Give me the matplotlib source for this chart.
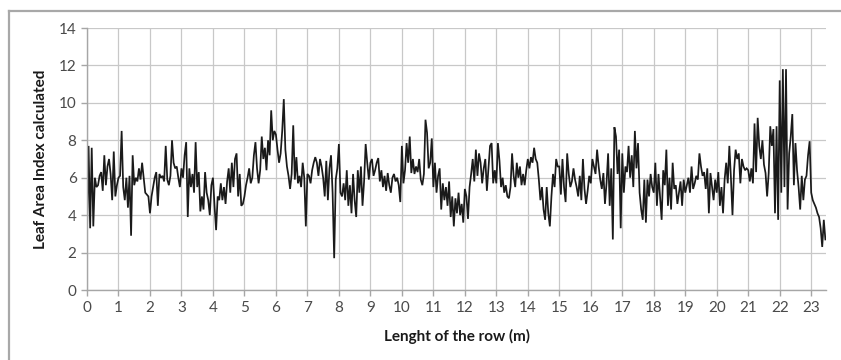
import numpy as np
import matplotlib
matplotlib.use("Agg")
import matplotlib.pyplot as plt
from matplotlib.lines import Line2D

# Leaf Area Index readings, 20 per metre (0.05 m spacing)
lai = [
    # 0 m
    3.1, 7.7, 3.3, 7.6, 3.4, 6.0, 5.5, 5.6, 6.1, 6.3, 5.3, 7.2, 5.6, 6.6, 7.0, 6.2, 4.8, 7.4, 5.0, 5.6,
    # 1 m
    6.0, 6.1, 8.5, 5.5, 4.8, 6.0, 4.4, 6.1, 2.9, 7.2, 5.6, 6.0, 5.8, 6.5, 5.9, 6.8, 6.0, 5.2, 5.1, 5.0,
    # 2 m
    4.1, 5.0, 5.5, 6.0, 6.3, 4.5, 6.2, 6.0, 6.1, 5.8, 7.7, 5.9, 5.6, 6.1, 8.0, 6.8, 6.5, 6.6, 6.0, 5.5,
    # 3 m
    6.5, 6.0, 7.2, 7.9, 3.9, 6.5, 5.5, 6.2, 5.2, 7.9, 5.5, 6.3, 4.2, 5.0, 4.3, 6.3, 5.2, 4.8, 4.0, 5.6,
    # 4 m
    6.0, 4.5, 3.2, 5.0, 4.8, 5.7, 4.8, 5.5, 4.6, 5.8, 6.5, 5.2, 6.8, 5.5, 7.0, 7.3, 5.0, 6.2, 4.5, 4.6,
    # 5 m
    5.0, 5.6, 6.0, 6.5, 5.7, 6.0, 7.2, 7.9, 6.5, 5.7, 6.4, 8.2, 7.0, 7.6, 6.4, 8.0, 7.2, 9.6, 8.0, 8.5,
    # 6 m
    8.3, 7.5, 6.8, 7.3, 8.5, 10.2, 7.5, 6.6, 6.1, 5.4, 6.2, 8.8, 5.9, 7.1, 5.7, 6.1, 5.5, 6.8, 6.0, 3.4,
    # 7 m
    6.2, 6.1, 5.7, 6.4, 6.8, 7.1, 6.8, 6.1, 7.0, 6.6, 6.0, 5.0, 6.9, 4.8, 6.5, 7.2, 5.2, 1.7, 5.9, 6.5,
    # 8 m
    7.8, 5.2, 5.0, 5.7, 4.8, 6.4, 4.5, 5.6, 4.1, 6.2, 4.8, 3.9, 6.4, 5.2, 6.6, 4.5, 5.8, 7.8, 6.8, 5.9,
    # 9 m
    6.8, 7.0, 6.1, 6.4, 6.8, 7.05, 5.8, 6.4, 5.5, 6.1, 5.3, 6.25, 5.6, 5.2, 6.0, 6.2, 5.8, 6.0, 5.6, 4.7,
    # 10 m
    7.7, 5.7, 6.4, 7.85, 6.8, 8.2, 6.25, 7.0, 6.2, 6.6, 6.3, 7.0, 5.9, 5.6, 6.2, 9.1, 8.4, 6.5, 6.8, 8.1,
    # 11 m
    5.5, 6.8, 5.2, 6.1, 6.5, 4.3, 5.7, 4.8, 5.5, 4.5, 5.8, 3.9, 5.0, 3.4, 4.9, 4.1, 5.2, 4.0, 4.6, 3.6,
    # 12 m
    5.4, 5.0, 3.8, 5.5, 6.2, 7.0, 5.8, 7.5, 6.1, 7.3, 6.8, 5.7, 6.5, 7.0, 5.3, 6.5, 7.7, 7.85, 5.7, 6.4,
    # 13 m
    5.7, 7.85, 6.9, 5.5, 6.0, 5.2, 5.6, 5.0, 4.9, 5.5, 7.3, 6.1, 5.5, 6.8, 6.0, 6.6, 5.6, 6.2, 5.6, 6.4,
    # 14 m
    7.0, 6.5, 7.1, 6.8, 7.6, 7.0, 6.8, 5.9, 4.8, 5.5, 4.3, 3.75, 5.5, 4.1, 3.4, 5.0, 6.2, 5.5, 7.0, 6.6,
    # 15 m
    6.6, 5.1, 7.0, 5.5, 4.7, 7.3, 6.2, 5.5, 5.8, 6.5, 5.9, 5.5, 5.0, 6.1, 4.8, 7.0, 5.4, 4.6, 5.3, 6.1,
    # 16 m
    5.7, 7.0, 6.6, 6.2, 7.5, 6.6, 5.9, 5.4, 6.25, 4.6, 5.7, 7.3, 4.5, 6.5, 2.7, 8.7, 8.2, 6.2, 7.5, 3.3,
    # 17 m
    7.3, 5.2, 6.6, 6.3, 7.7, 6.0, 7.2, 5.5, 8.5, 6.5, 7.85, 5.2, 4.3, 3.75, 5.9, 3.6, 5.9, 5.0, 6.2, 5.5,
    # 18 m
    5.2, 6.8, 4.5, 6.2, 5.0, 3.75, 6.4, 5.6, 7.5, 4.5, 6.0, 4.3, 6.8, 5.4, 5.6, 4.6, 5.2, 5.8, 4.5, 5.9,
    # 19 m
    5.2, 5.6, 6.0, 5.2, 6.6, 5.4, 5.7, 6.1, 5.9, 7.3, 6.6, 6.1, 6.3, 5.4, 6.5, 4.1, 6.25, 5.5, 4.8, 5.9,
    # 20 m
    5.2, 6.3, 4.5, 5.5, 4.1, 5.9, 6.8, 5.7, 7.7, 6.0, 4.0, 6.4, 7.5, 7.0, 7.3, 5.7, 7.0, 6.6, 6.4, 6.5,
    # 21 m
    6.4, 5.8, 6.5, 5.7, 8.9, 6.3, 9.2, 7.7, 7.0, 8.0, 6.7, 6.25, 5.0, 6.25, 8.75, 7.7, 8.6, 4.1, 8.75, 3.75,
    # 22 m
    11.2, 5.2, 11.8, 5.5, 11.8, 4.3, 7.3, 8.2, 9.4, 5.6, 7.85, 6.4, 5.5, 4.3, 6.1, 4.8, 5.9, 6.1, 7.2, 7.95,
    # 23 m
    5.2, 4.8, 4.6, 4.4, 4.1, 3.9, 3.3, 2.3, 3.75, 2.7,
]
sample_step = 0.05
positions = np.arange(len(lai)) * sample_step

x_ticks = list(range(0, 24))
y_ticks = [0, 2, 4, 6, 8, 10, 12, 14]
x_label = "Lenght of the row (m)"
y_label = "Leaf Area Index calculated"

plt.rcParams['font.family'] = ['Lato', 'DejaVu Sans']

fig = plt.figure(figsize=(8.41, 3.6), dpi=100)
fig.patch.set_facecolor('white')
# chart frame (left and top edges visible, the rest cropped)
fx = 8.5 / 841
fy = 1 - 10.5 / 360
fig.add_artist(Line2D([fx, fx], [0, fy], transform=fig.transFigure, color='#a8a8a8', linewidth=1.6))
fig.add_artist(Line2D([fx, 1], [fy, fy], transform=fig.transFigure, color='#a8a8a8', linewidth=1.6))

ax = fig.add_axes([87/841, 1 - 290/360, (826 - 87)/841, (290 - 28)/360])
ax.plot(positions, lai, color='#1a1a1a', linewidth=1.25, solid_joinstyle='miter')

ax.set_xlim(0, 23.47)
ax.set_ylim(0, 14)
ax.set_xticks(x_ticks)
ax.set_yticks(y_ticks)
ax.grid(True, color='#c8c8c8', linewidth=0.9)
ax.set_axisbelow(True)
for s in ['top', 'right']:
    ax.spines[s].set_visible(False)
for s in ['left', 'bottom']:
    ax.spines[s].set_color('#a6a6a6')
    ax.spines[s].set_linewidth(1.0)
ax.tick_params(axis='both', colors='#a6a6a6', labelcolor='#4a4a4a', labelsize=11,
               length=4, width=1.0)
ax.tick_params(axis='x', pad=4)
ax.set_xlabel(x_label, fontsize=11, fontweight='bold', color='#1a1a1a', labelpad=10)
ax.set_ylabel(y_label, fontsize=11, fontweight='bold', color='#1a1a1a', labelpad=8)

fig.savefig("out.png", dpi=100)
